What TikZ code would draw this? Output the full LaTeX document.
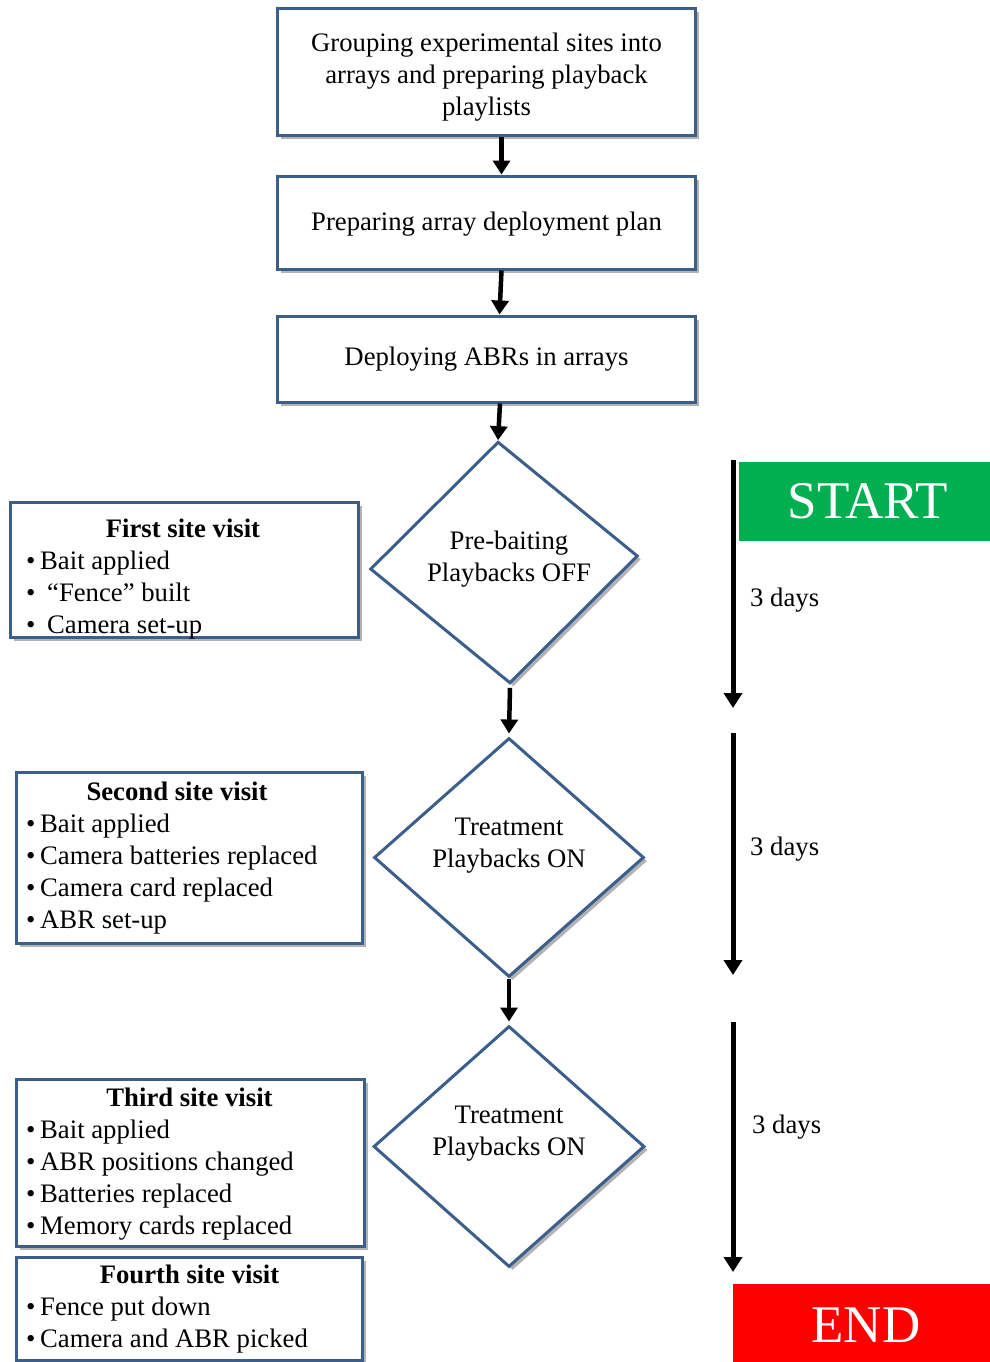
\documentclass[tikz,border=0pt]{standalone}
\usepackage{fontspec}
\setmainfont{Liberation Serif}
\usetikzlibrary{shapes.geometric,arrows.meta,shadows}
\definecolor{bord}{HTML}{3B5E8C}
\definecolor{startg}{HTML}{00B050}
\definecolor{endr}{HTML}{FF0000}
\tikzset{
 shad/.style={drop shadow={shadow xshift=3.5pt,shadow yshift=-3.5pt,fill=black!55,opacity=0.55}},
 box/.style={draw=bord,line width=3pt,fill=white,shad,rectangle,inner sep=0pt},
 dia/.style={draw=bord,line width=3pt,fill=white,shad,diamond,inner sep=0pt},
 txt/.style={font=\fontsize{26.7}{32}\selectfont,align=center,inner sep=0pt},
 ln/.style={font=\fontsize{26.7}{32}\selectfont,anchor=base west,inner sep=0pt},
 ttl/.style={font=\fontsize{26.7}{32}\selectfont\bfseries,anchor=base,inner sep=0pt},
 flow/.style={line width=4.5pt,-{Triangle[width=17pt,length=14pt]}},
 tline/.style={line width=5pt,-{Triangle[width=18pt,length=15pt]}},
 big/.style={font=\fontsize{53}{60}\selectfont,text=white,inner sep=0pt}
}
\newcommand{\bul}{\makebox[14pt][l]{\textbullet}}
\begin{document}
\begin{tikzpicture}[x=1pt,y=-1pt]
\useasboundingbox (0,0) rectangle (989,1362);
% top boxes
\node[box,minimum width=418,minimum height=127] (b1) at (486,72.5) {};
\node[txt] (b1t) at (486.5,77.5) {Grouping experimental sites into\\arrays and preparing playback\\playlists};
\node[box,minimum width=418,minimum height=93] (b2) at (486,222.5) {};
\node[txt] (b2t) at (486.5,224.5) {Preparing array deployment plan};
\node[box,minimum width=418,minimum height=86] (b3) at (486,359) {};
\node[txt] (b3t) at (486.5,359) {Deploying ABRs in arrays};
% diamonds
\node[dia,rotate=2.8,minimum width=268,minimum height=242] (d1) at (504,562.5) {};
\node[txt] (d1t) at (509,559) {Pre-baiting\\Playbacks OFF};
\node[dia,minimum width=270,minimum height=239] (d2) at (509,857.5) {};
\node[txt] (d2t) at (509,846) {Treatment\\Playbacks ON};
\node[dia,minimum width=271,minimum height=241] (d3) at (509,1146.5) {};
\node[txt] (d3t) at (509,1134) {Treatment\\Playbacks ON};
% flow arrows
\draw[flow] ([xshift=15.5pt]b1.south) -- ([xshift=15.5pt]b2.north);
\draw[flow] ([xshift=15.5pt]b2.south) -- ([xshift=13.5pt]b3.north);
\draw[flow] ([xshift=14pt]b3.south) -- (d1.north);
\draw[flow] ([yshift=-3pt]d1.south) -- ([yshift=3pt]d2.north);
\draw[flow] (d2.south) -- ([yshift=3pt]d3.north);
% left boxes
\node[box,minimum width=348,minimum height=135] (va) at (184,569.5) {};
\node[ttl] (va0) at (183,537) {First site visit};
\node[ln] (va1) at (26,569) {\bul Bait applied};
\node[ln] (va2) at (26,601) {\bul\hspace{7pt}“Fence” built};
\node[ln] (va3) at (26,633) {\bul\hspace{7pt}Camera set-up};
\node[box,minimum width=346,minimum height=171] (vb) at (189,857.5) {};
\node[ttl] (vb0) at (177,800) {Second site visit};
\node[ln] (vb1) at (26,832) {\bul Bait applied};
\node[ln] (vb2) at (26,864) {\bul Camera batteries replaced};
\node[ln] (vb3) at (26,896) {\bul Camera card replaced};
\node[ln] (vb4) at (26,928) {\bul ABR set-up};
\node[box,minimum width=348,minimum height=167] (vc) at (190,1162.5) {};
\node[ttl] (vc0) at (189.5,1106) {Third site visit};
\node[ln] (vc1) at (26,1138) {\bul Bait applied};
\node[ln] (vc2) at (26,1170) {\bul ABR positions changed};
\node[ln] (vc3) at (26,1202) {\bul Batteries replaced};
\node[ln] (vc4) at (26,1234) {\bul Memory cards replaced};
\node[box,minimum width=346,minimum height=103] (vd) at (189,1308.5) {};
\node[ttl] (vd0) at (189.5,1283) {Fourth site visit};
\node[ln] (vd1) at (26,1315) {\bul Fence put down};
\node[ln] (vd2) at (26,1347) {\bul Camera and ABR picked};
% timeline
\node[fill=startg,minimum width=258,minimum height=79,big] (st) at (868,501.5) {START};
\node[fill=endr,minimum width=266,minimum height=82,big] (en) at (866,1325) {END};
\coordinate (a1s) at (733,460); \coordinate (a1e) at (733,708);
\coordinate (a2s) at (733,733); \coordinate (a2e) at (733,975);
\coordinate (a3s) at (733,1022); \coordinate (a3e) at (733,1272);
\draw[tline] (a1s) -- (a1e);
\draw[tline] (a2s) -- (a2e);
\draw[tline] (a3s) -- (a3e);
\node[ln] (l1) at (750,606) {3 days};
\node[ln] (l2) at (750,855) {3 days};
\node[ln] (l3) at (752,1133) {3 days};
\end{tikzpicture}
\end{document}
